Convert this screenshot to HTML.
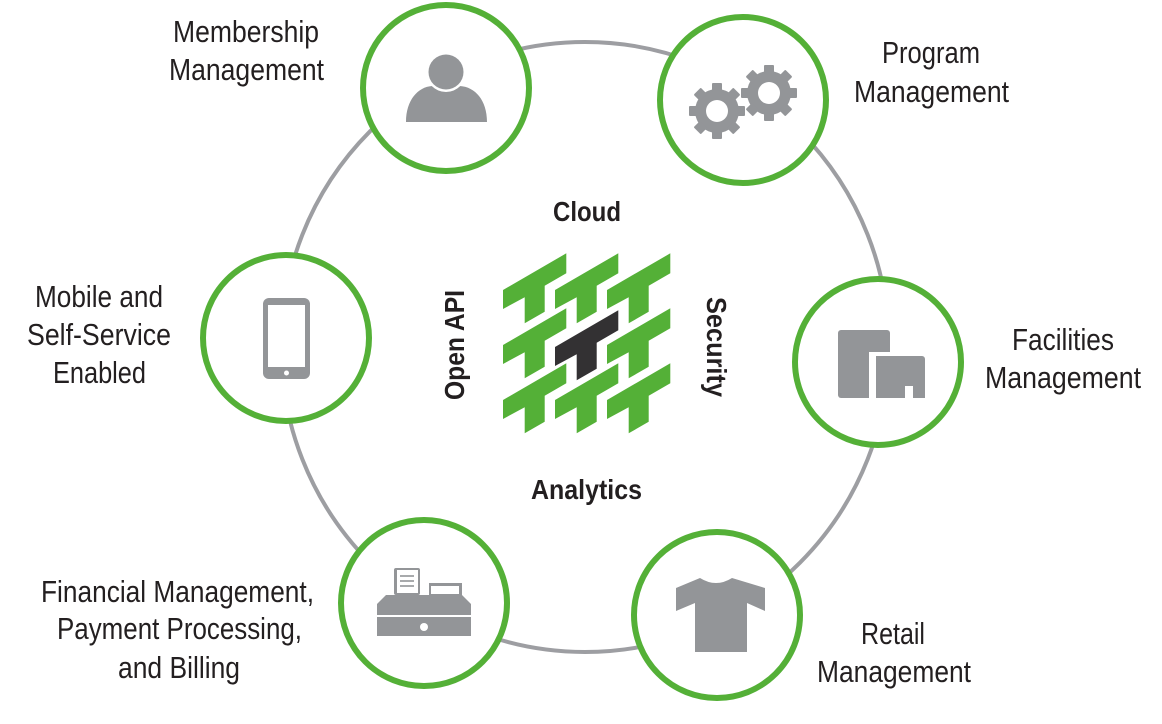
<!DOCTYPE html>
<html><head><meta charset="utf-8"><style>
html,body{margin:0;padding:0;background:#fff;}
svg{display:block;}
text{font-family:"Liberation Sans",Arial,sans-serif;fill:#231f20;font-size:31px;}
.b{font-weight:bold;font-size:28px;}
</style></head><body>
<svg width="1162" height="724" viewBox="0 0 1162 724" xmlns="http://www.w3.org/2000/svg">
<defs>
<polygon id="T" points="0,0 63.3,-36.7 63.3,-16.7 41.7,-4.3 41.7,21.7 21.7,33.3 21.7,7.3 0,19"/>
<g id="gear">
  <circle r="22" fill="#939598"/>
  <g fill="#939598">
    <rect x="-5" y="-28" width="10" height="9" rx="1"/>
    <rect x="-5" y="-28" width="10" height="9" rx="1" transform="rotate(45)"/>
    <rect x="-5" y="-28" width="10" height="9" rx="1" transform="rotate(90)"/>
    <rect x="-5" y="-28" width="10" height="9" rx="1" transform="rotate(135)"/>
    <rect x="-5" y="-28" width="10" height="9" rx="1" transform="rotate(180)"/>
    <rect x="-5" y="-28" width="10" height="9" rx="1" transform="rotate(225)"/>
    <rect x="-5" y="-28" width="10" height="9" rx="1" transform="rotate(270)"/>
    <rect x="-5" y="-28" width="10" height="9" rx="1" transform="rotate(315)"/>
  </g>
  <circle r="11" fill="#fff"/>
</g>
</defs>

<ellipse cx="585" cy="347" rx="304" ry="305" fill="none" stroke="#9d9ea2" stroke-width="4"/>

<g fill="#fff" stroke="#54b037" stroke-width="6">
<circle cx="446" cy="88" r="83"/>
<circle cx="743" cy="100" r="83"/>
<circle cx="286" cy="338" r="83"/>
<circle cx="878" cy="362" r="83"/>
<circle cx="424" cy="603" r="83"/>
<circle cx="717" cy="615" r="83"/>
</g>

<path d="M406,122 C406,100 418,87 432,86 Q446,96 460,86 C475,87 487,100 487,122 Z" fill="#939598"/>
<circle cx="446" cy="72" r="20" fill="#fff"/>
<circle cx="446" cy="72" r="17.5" fill="#939598"/>

<use href="#gear" x="717" y="111"/>
<circle cx="769" cy="93" r="27" fill="#fff"/>
<use href="#gear" x="769" y="93"/>

<rect x="263" y="298" width="47" height="81" rx="6" fill="#939598"/>
<rect x="268" y="305" width="37" height="62" fill="#fff"/>
<circle cx="286.5" cy="373" r="2.5" fill="#fff"/>

<rect x="838" y="330" width="52" height="68" rx="3" fill="#939598"/>
<rect x="869" y="352" width="60" height="50" fill="#fff"/>
<path d="M876,356 h46 a3,3 0 0 1 3,3 v39 h-12 v-12 h-8 v12 h-29 z" fill="#939598"/>

<rect x="394" y="568" width="26" height="27" rx="2" fill="#939598"/>
<rect x="397" y="570" width="21" height="23" fill="#fff"/>
<g stroke="#939598" stroke-width="1.6"><line x1="400" y1="576" x2="414" y2="576"/><line x1="400" y1="581" x2="414" y2="581"/><line x1="400" y1="586" x2="414" y2="586"/></g>
<rect x="429" y="583" width="33" height="15" fill="#939598"/>
<rect x="431" y="586" width="28" height="8" fill="#fff"/>
<path d="M386,595 H462 L471,604 V615 H377 V604 Z" fill="#939598"/>
<rect x="377" y="617" width="94" height="19" fill="#939598"/>
<circle cx="424" cy="627" r="4" fill="#fff"/>

<path d="M676,588 L700,578 Q716,588 732,578 L765,588 V611 L747,603 V652 H695 V603 L676,611 Z" fill="#939598"/>

<g fill="#54b037">
<use href="#T" x="503" y="290"/><use href="#T" x="555" y="290"/><use href="#T" x="607" y="290"/>
<use href="#T" x="503" y="345"/><use href="#T" x="607" y="345"/>
<use href="#T" x="503" y="400"/><use href="#T" x="555" y="400"/><use href="#T" x="607" y="400"/>
</g>
<use href="#T" x="555" y="347" fill="#333133"/>

<text class="b" x="553" y="221" textLength="68" lengthAdjust="spacingAndGlyphs">Cloud</text>
<text class="b" x="531" y="499" textLength="111" lengthAdjust="spacingAndGlyphs">Analytics</text>
<text class="b" transform="translate(464,400) rotate(-90)" textLength="110" lengthAdjust="spacingAndGlyphs">Open API</text>
<text class="b" transform="translate(707,297) rotate(90)" textLength="100" lengthAdjust="spacingAndGlyphs">Security</text>

<text x="173" y="42" textLength="146" lengthAdjust="spacingAndGlyphs">Membership</text>
<text x="169" y="80" textLength="155" lengthAdjust="spacingAndGlyphs">Management</text>
<text x="882" y="63" textLength="98" lengthAdjust="spacingAndGlyphs">Program</text>
<text x="854" y="102" textLength="155" lengthAdjust="spacingAndGlyphs">Management</text>
<text x="1012" y="350" textLength="102" lengthAdjust="spacingAndGlyphs">Facilities</text>
<text x="985" y="388" textLength="156" lengthAdjust="spacingAndGlyphs">Management</text>
<text x="861" y="644" textLength="64" lengthAdjust="spacingAndGlyphs">Retail</text>
<text x="817" y="682" textLength="154" lengthAdjust="spacingAndGlyphs">Management</text>
<text x="41" y="602" textLength="273" lengthAdjust="spacingAndGlyphs">Financial Management,</text>
<text x="57" y="639" textLength="245" lengthAdjust="spacingAndGlyphs">Payment Processing,</text>
<text x="118" y="678" textLength="122" lengthAdjust="spacingAndGlyphs">and Billing</text>
<text x="35" y="307" textLength="128" lengthAdjust="spacingAndGlyphs">Mobile and</text>
<text x="27" y="345" textLength="144" lengthAdjust="spacingAndGlyphs">Self-Service</text>
<text x="53" y="383" textLength="93" lengthAdjust="spacingAndGlyphs">Enabled</text>
</svg>
</body></html>
